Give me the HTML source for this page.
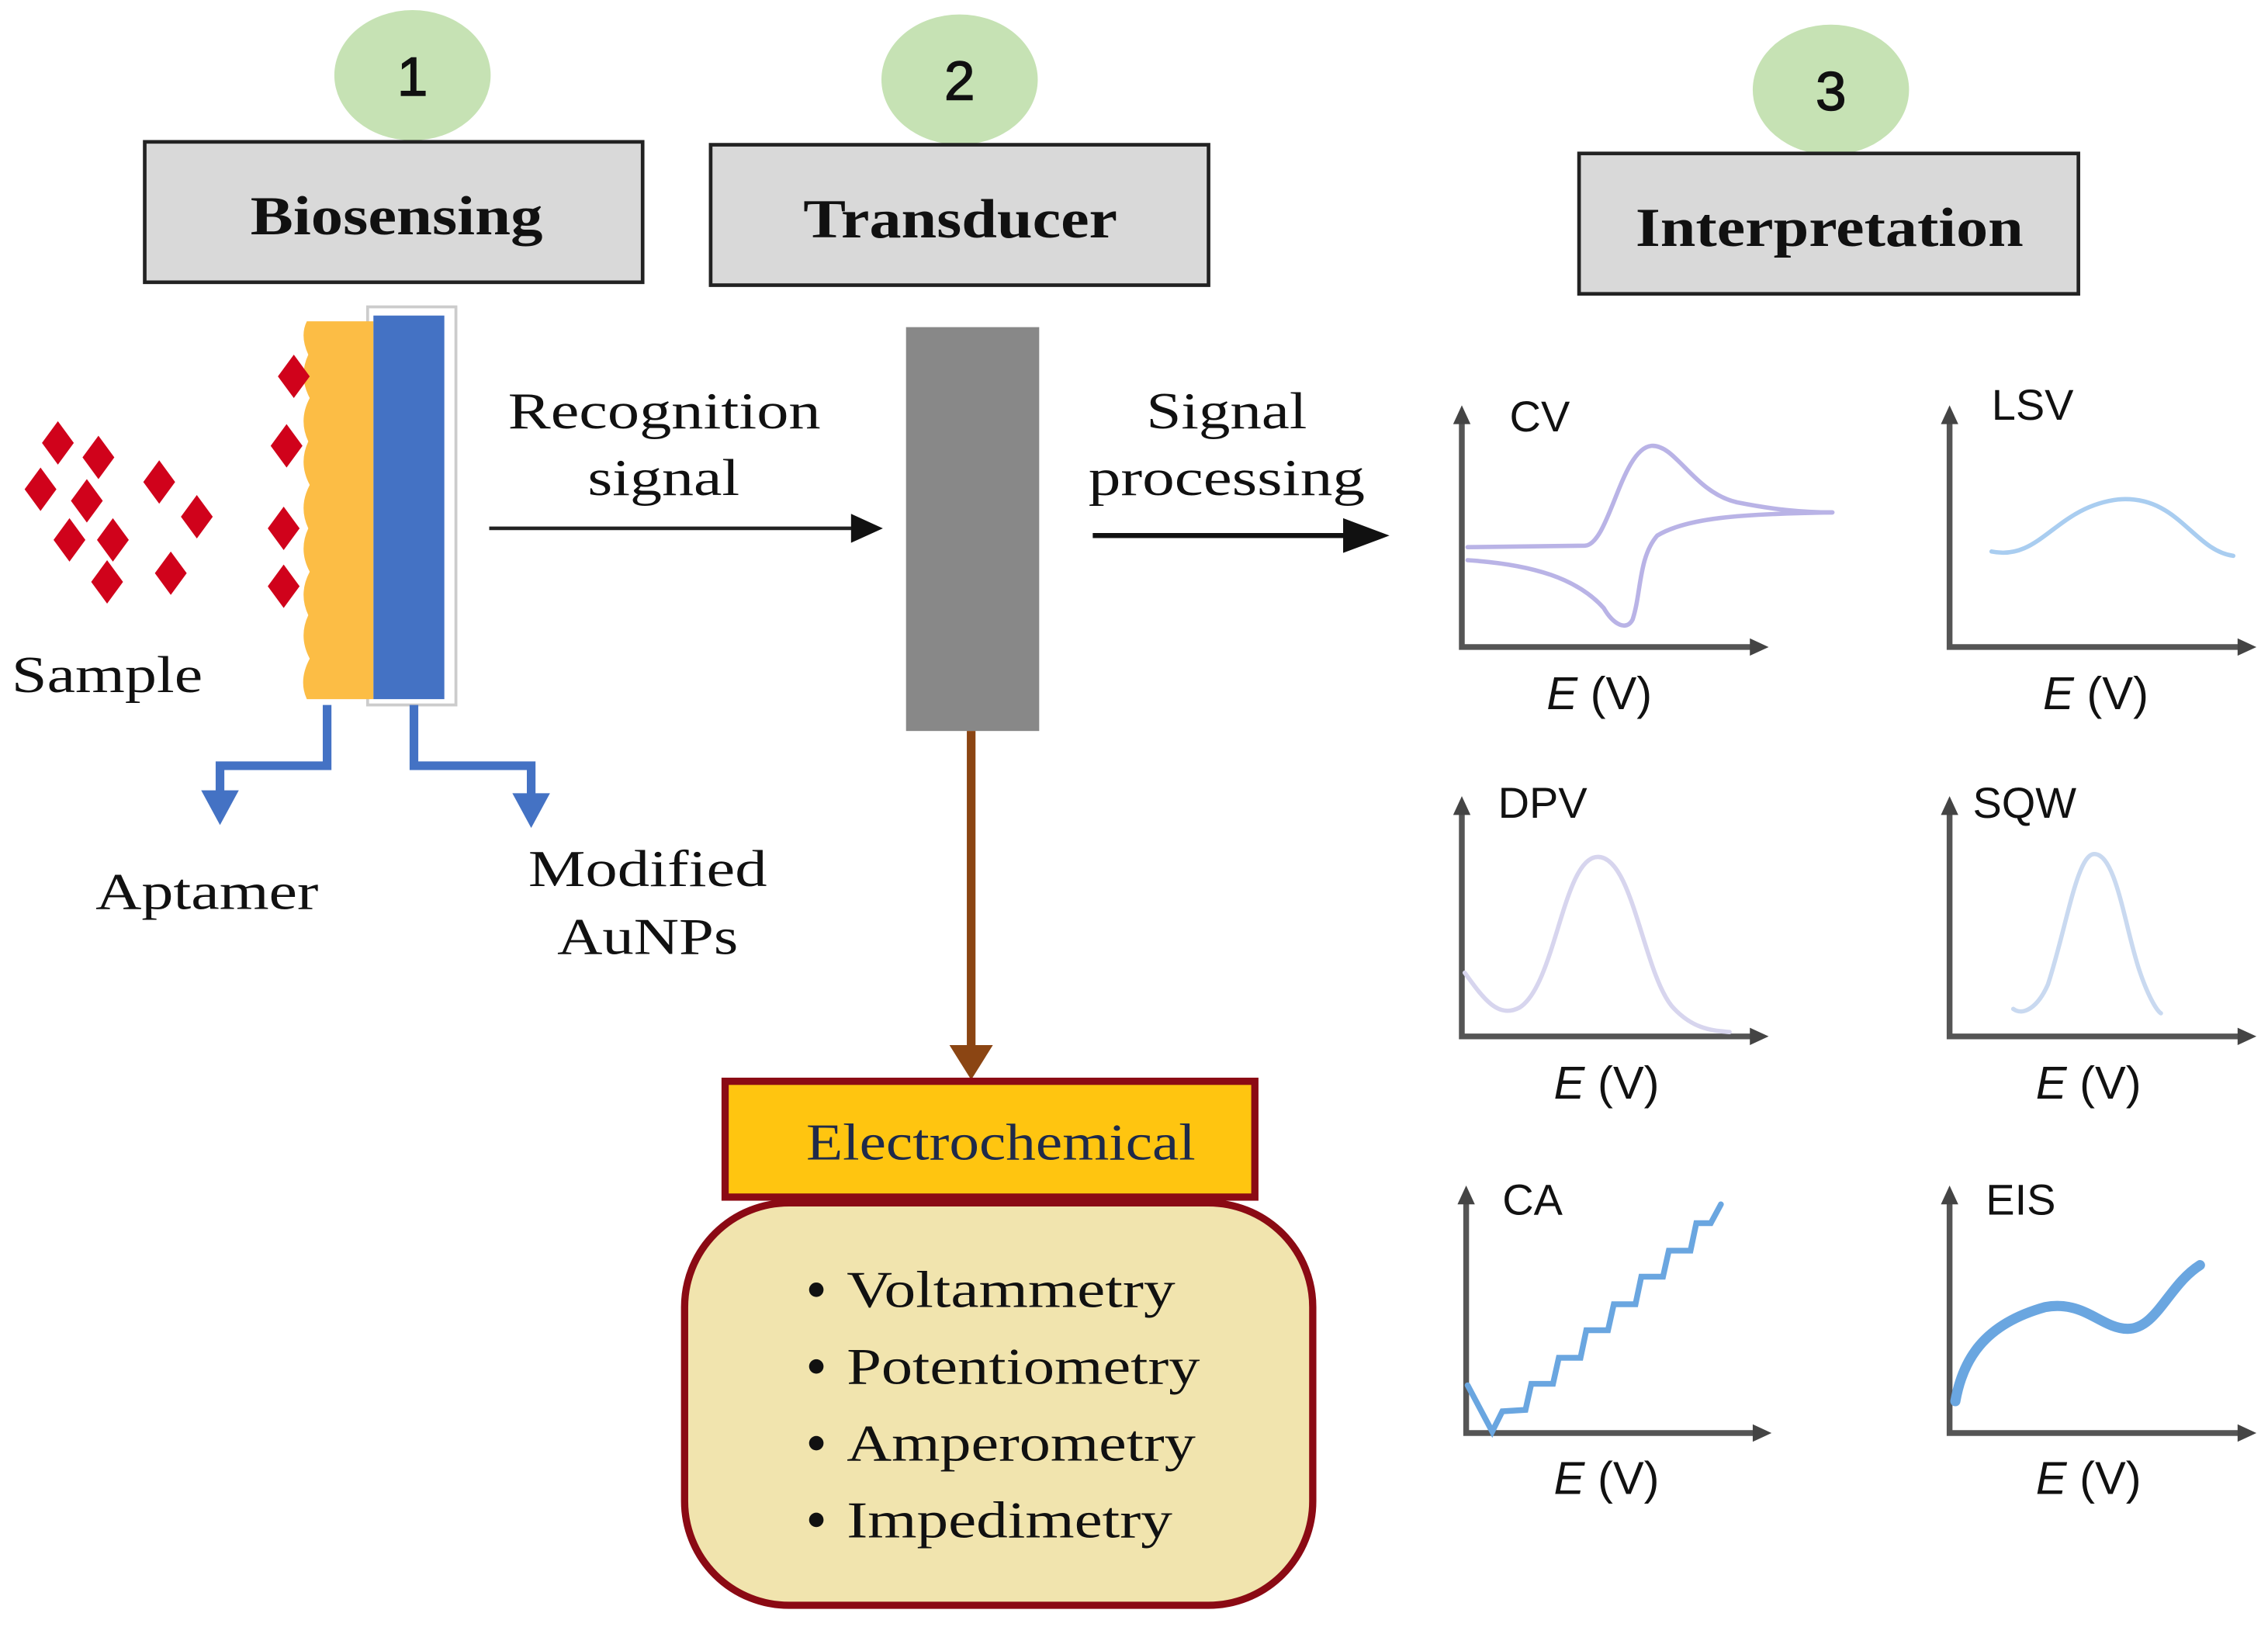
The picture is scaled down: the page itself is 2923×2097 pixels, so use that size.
<!DOCTYPE html>
<html><head><meta charset="utf-8"><style>html,body{margin:0;padding:0;background:#fff}svg{display:block}</style></head>
<body>
<svg width="2923" height="2097" viewBox="0 0 1567 1124" preserveAspectRatio="none" xmlns="http://www.w3.org/2000/svg">
<g font-family="'Liberation Sans',sans-serif">
<!-- circles -->
<ellipse cx="285" cy="52" rx="54" ry="45" fill="#c6e2b4"/>
<ellipse cx="663" cy="55" rx="54" ry="45" fill="#c6e2b4"/>
<ellipse cx="1265" cy="62" rx="54" ry="45" fill="#c6e2b4"/>
<text x="285" y="66" font-size="38" text-anchor="middle" fill="#111" stroke="#111" stroke-width="0.8">1</text>
<text x="663" y="69" font-size="38" text-anchor="middle" fill="#111" stroke="#111" stroke-width="0.8">2</text>
<text x="1265" y="76" font-size="38" text-anchor="middle" fill="#111" stroke="#111" stroke-width="0.8">3</text>
<!-- header boxes -->
<g fill="#d9d9d9" stroke="#222" stroke-width="2.5">
<rect x="100" y="98" width="344" height="97"/>
<rect x="491" y="100" width="344" height="97"/>
<rect x="1091" y="106" width="345" height="97"/>
</g>
<g font-family="'Liberation Serif',serif" font-weight="bold" font-size="38" fill="#111" lengthAdjust="spacingAndGlyphs">
<text x="173" y="162" textLength="202" lengthAdjust="spacingAndGlyphs">Biosensing</text>
<text x="555" y="164" textLength="217" lengthAdjust="spacingAndGlyphs">Transducer</text>
<text x="1130" y="170" textLength="268" lengthAdjust="spacingAndGlyphs">Interpretation</text>
</g>
<!-- electrode -->
<rect x="254" y="212" width="61" height="275" fill="none" stroke="#ccc" stroke-width="2"/>
<path d="M212,222 L258,222 L258,483 L212,483 Q206,470 214,455 Q206,440 213,425 Q206,410 214,395 Q206,380 213,365 Q206,350 214,335 Q206,320 213,305 Q206,290 214,275 Q206,260 213,245 Q207,232 212,222z" fill="#fcbd45"/>
<rect x="258" y="218" width="49" height="265" fill="#4472c4"/>
<!-- diamonds -->
<g fill="#d0021b">
<path d="M40,291 l11,15 l-11,15 l-11,-15z"/>
<path d="M68,301 l11,15 l-11,15 l-11,-15z"/>
<path d="M110,318 l11,15 l-11,15 l-11,-15z"/>
<path d="M28,323 l11,15 l-11,15 l-11,-15z"/>
<path d="M60,331 l11,15 l-11,15 l-11,-15z"/>
<path d="M136,342 l11,15 l-11,15 l-11,-15z"/>
<path d="M48,358 l11,15 l-11,15 l-11,-15z"/>
<path d="M78,358 l11,15 l-11,15 l-11,-15z"/>
<path d="M118,381 l11,15 l-11,15 l-11,-15z"/>
<path d="M74,387 l11,15 l-11,15 l-11,-15z"/>
<path d="M203,245 l11,15 l-11,15 l-11,-15z"/>
<path d="M198,293 l11,15 l-11,15 l-11,-15z"/>
<path d="M196,350 l11,15 l-11,15 l-11,-15z"/>
<path d="M196,390 l11,15 l-11,15 l-11,-15z"/>
</g>
<!-- blue arrows -->
<g fill="none" stroke="#4472c4" stroke-width="6">
<path d="M226,487 V529 H152 V548"/>
<path d="M286,487 V529 H367 V550"/>
</g>
<path d="M139,546 L165,546 L152,570z" fill="#4472c4"/>
<path d="M354,548 L380,548 L367,572z" fill="#4472c4"/>
<g font-family="'Liberation Serif',serif" font-size="36" fill="#111">
<text x="8" y="478" textLength="132" lengthAdjust="spacingAndGlyphs">Sample</text>
<text x="66" y="628" textLength="154" lengthAdjust="spacingAndGlyphs">Aptamer</text>
<text x="365" y="612" textLength="165" lengthAdjust="spacingAndGlyphs">Modified</text>
<text x="385" y="659" textLength="125" lengthAdjust="spacingAndGlyphs">AuNPs</text>
<text x="351" y="296" textLength="216" lengthAdjust="spacingAndGlyphs">Recognition</text>
<text x="406" y="342" textLength="105" lengthAdjust="spacingAndGlyphs">signal</text>
<text x="792" y="296" textLength="111" lengthAdjust="spacingAndGlyphs">Signal</text>
<text x="752" y="342" textLength="191" lengthAdjust="spacingAndGlyphs">processing</text>
</g>
<line x1="338" y1="365" x2="592" y2="365" stroke="#222" stroke-width="2.5"/>
<path d="M588,355 L610,365 L588,375z" fill="#111"/>
<line x1="755" y1="370" x2="935" y2="370" stroke="#111" stroke-width="3.5"/>
<path d="M928,358 L960,370 L928,382z" fill="#111"/>
<!-- transducer -->
<rect x="626" y="226" width="92" height="279" fill="#888"/>
<line x1="671" y1="505" x2="671" y2="725" stroke="#8b4513" stroke-width="6"/>
<path d="M656,722 L686,722 L671,746z" fill="#8b4513"/>
<!-- electrochemical -->
<rect x="501" y="747" width="366" height="80" fill="#ffc510" stroke="#8b0a14" stroke-width="5"/>
<text x="557" y="801" font-family="'Liberation Serif',serif" font-size="36" textLength="269" lengthAdjust="spacingAndGlyphs" fill="#1f2a4a">Electrochemical</text>
<rect x="473" y="831" width="434" height="278" rx="72" ry="72" fill="#f1e4ae" stroke="#8b0a14" stroke-width="5"/>
<g font-family="'Liberation Serif',serif" font-size="36" fill="#111">
<circle cx="564" cy="891" r="5"/><text x="585" y="903" textLength="227" lengthAdjust="spacingAndGlyphs">Voltammetry</text>
<circle cx="564" cy="944" r="5"/><text x="585" y="956" textLength="244" lengthAdjust="spacingAndGlyphs">Potentiometry</text>
<circle cx="564" cy="997" r="5"/><text x="585" y="1009" textLength="241" lengthAdjust="spacingAndGlyphs">Amperometry</text>
<circle cx="564" cy="1050" r="5"/><text x="585" y="1062" textLength="225" lengthAdjust="spacingAndGlyphs">Impedimetry</text>
</g>
<!-- plot axes -->
<g stroke="#555" stroke-width="4" fill="none">
<path d="M1010,290 V447 H1212"/>
<path d="M1347,290 V447 H1549"/>
<path d="M1010,560 V716 H1212"/>
<path d="M1347,560 V716 H1549"/>
<path d="M1013,829 V990 H1214"/>
<path d="M1347,829 V990 H1549"/>
</g>
<g fill="#444">
<path d="M1004,293 L1010,280 L1016,293z"/><path d="M1209,441 L1222,447 L1209,453z"/>
<path d="M1341,293 L1347,280 L1353,293z"/><path d="M1546,441 L1559,447 L1546,453z"/>
<path d="M1004,563 L1010,550 L1016,563z"/><path d="M1209,710 L1222,716 L1209,722z"/>
<path d="M1007,832 L1013,819 L1019,832z"/><path d="M1211,984 L1224,990 L1211,996z"/>
<path d="M1341,563 L1347,550 L1353,563z"/><path d="M1546,710 L1559,716 L1546,722z"/>
<path d="M1341,832 L1347,819 L1353,832z"/><path d="M1546,984 L1559,990 L1546,996z"/>
</g>
<g font-size="30" fill="#111">
<text x="1043" y="298">CV</text><text x="1376" y="290">LSV</text>
<text x="1035" y="565">DPV</text><text x="1363" y="565">SQW</text>
<text x="1038" y="839">CA</text><text x="1372" y="839">EIS</text>
</g>
<g font-size="32" fill="#111" text-anchor="middle">
<text x="1105" y="490"><tspan font-style="italic">E</tspan> (V)</text>
<text x="1448" y="490"><tspan font-style="italic">E</tspan> (V)</text>
<text x="1110" y="759"><tspan font-style="italic">E</tspan> (V)</text>
<text x="1443" y="759"><tspan font-style="italic">E</tspan> (V)</text>
<text x="1110" y="1032"><tspan font-style="italic">E</tspan> (V)</text>
<text x="1443" y="1032"><tspan font-style="italic">E</tspan> (V)</text>
</g>
<!-- curves -->
<g fill="none" stroke-linecap="round">
<path d="M1014,378 L1095,377 C1112,376 1120,310 1141,308 C1158,307 1170,340 1200,347 C1225,352 1245,354 1266,354" stroke="#b9b3e6" stroke-width="3"/>
<path d="M1014,387 C1060,390 1090,400 1108,420 C1115,432 1124,436 1128,428 C1134,410 1132,385 1145,370 C1165,358 1200,355 1266,354" stroke="#b9b3e6" stroke-width="3"/>
<path d="M1376,381 C1410,388 1420,350 1464,345 C1505,342 1515,380 1543,384" stroke="#a9cdf0" stroke-width="3"/>
<path d="M1012,672 C1025,690 1035,704 1050,696 C1075,680 1080,592 1104,592 C1128,592 1135,670 1155,695 C1170,712 1185,712 1195,713" stroke="#d7d5ee" stroke-width="3"/>
<path d="M1391,697 C1398,702 1408,696 1415,680 C1428,640 1435,590 1447,590 C1462,590 1468,640 1478,670 C1484,688 1490,698 1493,700" stroke="#c9d9f0" stroke-width="3"/>
<path d="M1014,957 L1031,989 L1038,975 L1054,974 L1058,956 L1073,956 L1077,938 L1092,938 L1096,919 L1111,919 L1115,901 L1130,901 L1134,882 L1149,882 L1153,864 L1168,864 L1172,845 L1182,845 L1189,832" stroke="#6aa6e0" stroke-width="4"/>
<path d="M1351,968 C1356,940 1370,915 1413,903 C1440,898 1452,918 1470,918 C1490,918 1498,888 1520,874" stroke="#6aa6e0" stroke-width="7"/>
</g>
</g>
</svg>
</body></html>
